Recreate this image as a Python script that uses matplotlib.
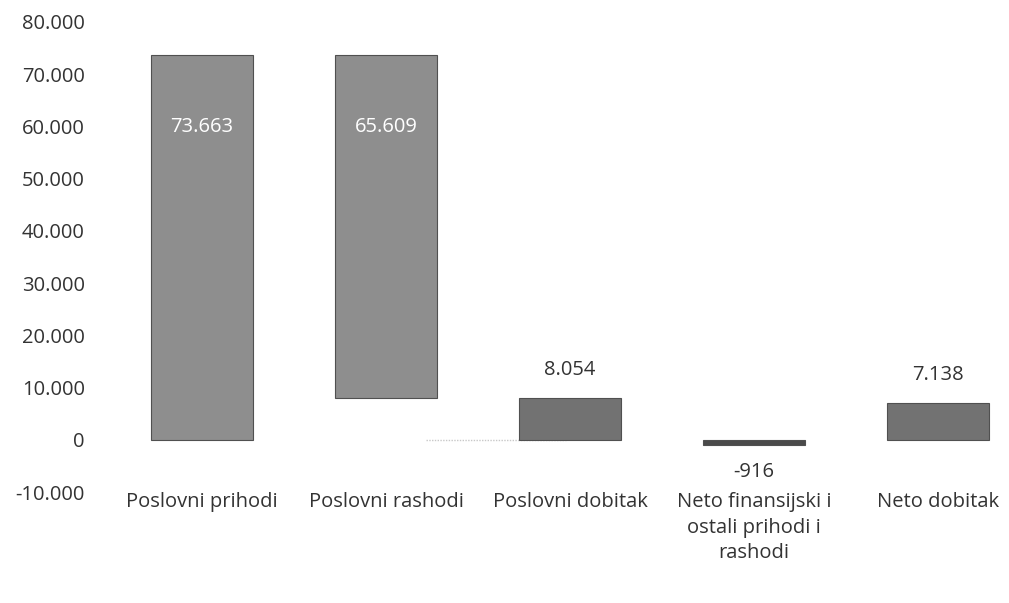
import matplotlib.pyplot as plt

categories = ["Poslovni prihodi", "Poslovni rashodi", "Poslovni dobitak",
              "Neto finansijski i\nostali prihodi i\nrashodi", "Neto dobitak"]
values = [73663, -65609, 8054, -916, 7138]
bottoms = [0, 73663, 0, 0, 0]
heights = [73663, -65609, 8054, -916, 7138]
labels = ["73.663", "65.609", "8.054", "-916", "7.138"]
yticks = [-10000, 0, 10000, 20000, 30000, 40000, 50000, 60000, 70000, 80000]
yticklabels = ["-10.000", "0", "10.000", "20.000", "30.000", "40.000",
               "50.000", "60.000", "70.000", "80.000"]

plt.rcParams['font.family'] = ['Open Sans', 'DejaVu Sans']

fig = plt.figure(figsize=(10.09, 6.03), dpi=100)
ax = fig.add_axes([110/1009, 1 - 492/603, 1 - 110/1009, (492 - 22) / 603])

colors = ['#8e8e8e', '#8e8e8e', '#727272', '#4a4a4a', '#727272']
x = list(range(len(categories)))
bars = ax.bar(x, heights, bottom=bottoms, width=0.55, color=colors,
              edgecolor='#505050', linewidth=0.8)

# faint connector at zero
ax.plot([1.22, 1.98], [0, 0], color='#c8c8c8', linewidth=1, linestyle=(0, (1, 1)), zorder=0)

fs = 14.5
for i, (b, h, lab) in enumerate(zip(bottoms, heights, labels)):
    if i in (0, 1):
        ax.annotate(lab, (i, max(b, b + h)), xytext=(0, -52), textcoords='offset points',
                    ha='center', va='center', color='white', fontsize=fs)
    elif h > 0:
        ax.annotate(lab, (i, b + h), xytext=(0, 20), textcoords='offset points',
                    ha='center', va='center', color='#333333', fontsize=fs)
    else:
        ax.annotate(lab, (i, b + h), xytext=(0, -20), textcoords='offset points',
                    ha='center', va='center', color='#333333', fontsize=fs)

ax.set_ylim(-10000, 80000)
ax.set_xlim(-0.5, (1009 - 202) / 184)
ax.set_yticks(yticks)
ax.set_yticklabels(yticklabels, fontsize=fs, color='#333333')
ax.set_xticks(x)
ax.set_xticklabels(categories, fontsize=fs, color='#333333', linespacing=1.38)
ax.tick_params(axis='y', length=0, pad=18)
ax.tick_params(axis='x', length=0, pad=0)
for s in ax.spines.values():
    s.set_visible(False)

fig.savefig('out.png', dpi=100)
